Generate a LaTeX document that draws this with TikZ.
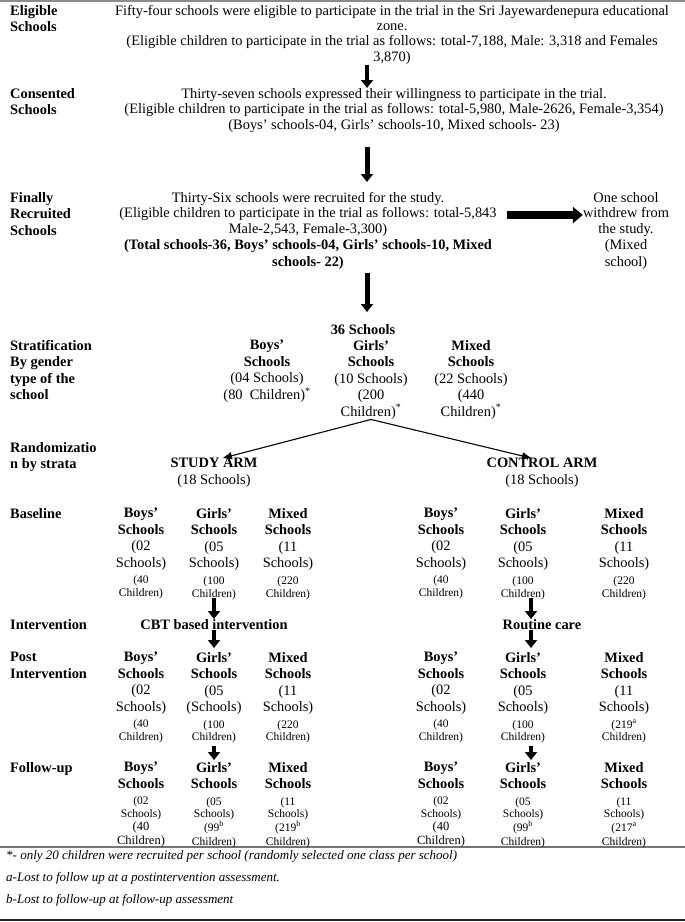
\documentclass[tikz,border=0pt]{standalone}
\usepackage{fontspec}
\setmainfont{Liberation Serif}
\usetikzlibrary{arrows.meta,positioning}

\newcommand\smallsz{\fontsize{11.5}{13}\selectfont}
\newcommand\notesz{\fontsize{13}{15}\selectfont\itshape}

\begin{document}
\begin{tikzpicture}[x=1pt, y=-1pt,
    every node/.style={inner sep=0pt, font=\fontsize{14.4}{16.5}\selectfont},
    rowlab/.style={anchor=north west, align=left, font=\fontsize{14.4}{16.5}\selectfont\bfseries},
    maintxt/.style={anchor=north, align=center},
    colblk/.style={anchor=north, align=center},
    blkarrow/.style={line width=4.5pt, -{Triangle[width=12pt,length=8pt]}},
    bigarrow/.style={line width=8pt, -{Triangle[width=16pt,length=10pt]}},
    thinarrow/.style={line width=1.1pt, -{Triangle[width=7pt,length=9pt]}}]
    \useasboundingbox (0,0) rectangle (685,922);

    % Rules
    \draw[line width=2pt, black!45] (0,1) -- (685,1);
    \draw[line width=1.3pt, black!55] (0,847) -- (685,847);
    \draw[line width=2pt, black!85] (0,920) -- (685,920);

    % Row labels
    \node[rowlab] (eligL) at (10,5) {Eligible\\Schools};
    \node[rowlab] (consL) at (10,88) {Consented\\Schools};
    \node[rowlab] (finL) at (10,192) {Finally\\Recruited\\Schools};
    \node[rowlab] (stratL) at (10,340) {Stratification\\By gender\\type of the\\school};
    \node[rowlab] (randL) at (10,442) {Randomizatio\\n by strata};
    \node[rowlab] (baseL) at (10,508) {Baseline};
    \node[rowlab] (intL) at (10,619) {Intervention};
    \node[rowlab] (postL) at (10,652) {Post\\Intervention};
    \node[rowlab] (fuL) at (10,762) {Follow-up};

    % Eligible, consented and recruited schools
    \node[maintxt] (elig) at (392,5) {Fifty-four schools were eligible to participate in the trial in the Sri Jayewardenepura educational\\[-1.2pt]
        zone.\\[-1.2pt]
        (Eligible children to participate in the trial as follows: total-7,188, Male: 3,318 and Females\\[-1.2pt]
        3,870)};
    \node[maintxt] (cons) at (394,88) {Thirty-seven schools expressed their willingness to participate in the trial.\\[-1pt]
        (Eligible children to participate in the trial as follows: total-5,980, Male-2626, Female-3,354)\\[-1pt]
        (Boys' schools-04, Girls' schools-10, Mixed schools- 23)};
    \node[maintxt] (fin) at (308,192) {Thirty-Six schools were recruited for the study.\\[-1pt]
        (Eligible children to participate in the trial as follows: total-5,843\\[-1pt]
        Male-2,543, Female-3,300)\\
        \textbf{(Total schools-36, Boys' schools-04, Girls' schools-10, Mixed}\\
        \textbf{schools- 22)}};
    \node[maintxt] (wd) at (626,192) {One school\\[-1pt]withdrew from\\[-1pt]the study.\\(Mixed\\school)};

    % Stratification
    \node[colblk, font=\fontsize{14.4}{16.5}\selectfont\bfseries] (all) at (363,324) {36 Schools};
    \node[colblk] (sB) at (267,340) {\textbf{Boys'}\\\textbf{Schools}\\(04 Schools)\\(80~~Children)\textsuperscript{*}};
    \node[colblk] (sG) at (371,340) {\textbf{Girls'}\\\textbf{Schools}\\(10 Schools)\\(200\\Children)\textsuperscript{*}};
    \node[colblk] (sM) at (471,340) {\textbf{Mixed}\\\textbf{Schools}\\(22 Schools)\\(440\\Children)\textsuperscript{*}};

    % Arms
    \node[colblk] (study) at (214,458) {\textbf{STUDY ARM}\\(18 Schools)};
    \node[colblk] (control) at (542,458) {\textbf{CONTROL ARM}\\(18 Schools)};

    % Baseline
    \node[colblk] (bB) at (141,508) {\textbf{Boys'}\\\textbf{Schools}\\(02\\Schools)\\{\smallsz (40}\\[-3.5pt]{\smallsz Children)}};
    \node[colblk] (bG) at (214,508) {\textbf{Girls'}\\\textbf{Schools}\\(05\\Schools)\\{\smallsz (100}\\[-3.5pt]{\smallsz Children)}};
    \node[colblk] (bM) at (288,508) {\textbf{Mixed}\\\textbf{Schools}\\(11\\Schools)\\{\smallsz (220}\\[-3.5pt]{\smallsz Children)}};
    \node[colblk] (cbB) at (441,508) {\textbf{Boys'}\\\textbf{Schools}\\(02\\Schools)\\{\smallsz (40}\\[-3.5pt]{\smallsz Children)}};
    \node[colblk] (cbG) at (523,508) {\textbf{Girls'}\\\textbf{Schools}\\(05\\Schools)\\{\smallsz (100}\\[-3.5pt]{\smallsz Children)}};
    \node[colblk] (cbM) at (624,508) {\textbf{Mixed}\\\textbf{Schools}\\(11\\Schools)\\{\smallsz (220}\\[-3.5pt]{\smallsz Children)}};

    % Intervention
    \node[colblk, font=\fontsize{14.4}{16.5}\selectfont\bfseries] (cbt) at (214,619) {CBT based intervention};
    \node[colblk, font=\fontsize{14.4}{16.5}\selectfont\bfseries] (rc) at (542,619) {Routine care};

    % Post intervention
    \node[colblk] (pB) at (141,652) {\textbf{Boys'}\\\textbf{Schools}\\(02\\Schools)\\{\smallsz (40}\\[-4pt]{\smallsz Children)}};
    \node[colblk] (pG) at (214,652) {\textbf{Girls'}\\\textbf{Schools}\\(05\\(Schools)\\{\smallsz (100}\\[-4pt]{\smallsz Children)}};
    \node[colblk] (pM) at (288,652) {\textbf{Mixed}\\\textbf{Schools}\\(11\\Schools)\\{\smallsz (220}\\[-4pt]{\smallsz Children)}};
    \node[colblk] (cpB) at (441,652) {\textbf{Boys'}\\\textbf{Schools}\\(02\\Schools)\\{\smallsz (40}\\[-4pt]{\smallsz Children)}};
    \node[colblk] (cpG) at (523,652) {\textbf{Girls'}\\\textbf{Schools}\\(05\\Schools)\\{\smallsz (100}\\[-4pt]{\smallsz Children)}};
    \node[colblk] (cpM) at (624,652) {\textbf{Mixed}\\\textbf{Schools}\\(11\\Schools)\\{\smallsz (219\textsuperscript{a}}\\[-4pt]{\smallsz Children)}};

    % Follow-up
    \node[colblk] (fB) at (141,762) {\textbf{Boys'}\\\textbf{Schools}\\{\smallsz (02}\\[-4pt]{\smallsz Schools)}\\[-3pt]{\fontsize{12.5}{14}\selectfont (40}\\[-2.5pt]{\fontsize{12.5}{14}\selectfont Children)}};
    \node[colblk] (fG) at (214,762) {\textbf{Girls'}\\\textbf{Schools}\\{\smallsz (05}\\[-4pt]{\smallsz Schools)}\\[-3pt]{\smallsz (99\textsuperscript{b}}\\[-2.5pt]{\smallsz Children)}};
    \node[colblk] (fM) at (288,762) {\textbf{Mixed}\\\textbf{Schools}\\{\smallsz (11}\\[-4pt]{\smallsz Schools)}\\[-3pt]{\smallsz (219\textsuperscript{b}}\\[-2.5pt]{\smallsz Children)}};
    \node[colblk] (cfB) at (441,762) {\textbf{Boys'}\\\textbf{Schools}\\{\smallsz (02}\\[-4pt]{\smallsz Schools)}\\[-3pt]{\fontsize{12.5}{14}\selectfont (40}\\[-2.5pt]{\fontsize{12.5}{14}\selectfont Children)}};
    \node[colblk] (cfG) at (523,762) {\textbf{Girls'}\\\textbf{Schools}\\{\smallsz (05}\\[-4pt]{\smallsz Schools)}\\[-3pt]{\smallsz (99\textsuperscript{b}}\\[-2.5pt]{\smallsz Children)}};
    \node[colblk] (cfM) at (624,762) {\textbf{Mixed}\\\textbf{Schools}\\{\smallsz (11}\\[-4pt]{\smallsz Schools)}\\[-3pt]{\smallsz (217\textsuperscript{a}}\\[-2.5pt]{\smallsz Children)}};

    % Footnotes
    \node[anchor=north west, font=\notesz] (fn1) at (6,850) {*- only 20 children were recruited per school (randomly selected one class per school)};
    \node[anchor=north west, font=\notesz] (fn2) at (6,872) {a-Lost to follow up at a postintervention assessment.};
    \node[anchor=north west, font=\notesz] (fn3) at (6,894) {b-Lost to follow-up at follow-up assessment};

    % Arrows
    \coordinate (ax) at (367,0);
    \coordinate (cx) at (531,0);
    \coordinate (ry) at (0,215);
    \draw[blkarrow] (elig.south -| ax) -- (cons.north -| ax);
    \draw[blkarrow, line width=5pt, shorten <=14pt, shorten >=10pt] (cons.south -| ax) -- (fin.north -| ax);
    \draw[blkarrow, line width=5pt, shorten <=3pt, shorten >=12pt] (fin.south -| ax) -- (all.north -| ax);
    \draw[bigarrow, shorten <=10pt] (fin.east |- ry) -- (wd.west |- ry);
    \draw[thinarrow] (sG.south) -- ([xshift=9pt]study.north);
    \draw[thinarrow] (sG.south) -- ([xshift=-11pt]control.north);
    \draw[blkarrow, shorten <=-2pt] (bG.south -| cbt) -- (cbt.north);
    \draw[blkarrow, shorten >=4pt] (cbt.south) -- (pG.north);
    \draw[blkarrow, shorten <=3pt, shorten >=2pt] (pG.south) -- (fG.north);
    \draw[blkarrow, shorten <=-2pt] (cbG.south -| cx) -- (rc.north -| cx);
    \draw[blkarrow, shorten >=4pt] (rc.south -| cx) -- (cpG.north -| cx);
    \draw[blkarrow, shorten <=3pt, shorten >=2pt] (cpG.south -| cx) -- (cfG.north -| cx);
\end{tikzpicture}
\end{document}
